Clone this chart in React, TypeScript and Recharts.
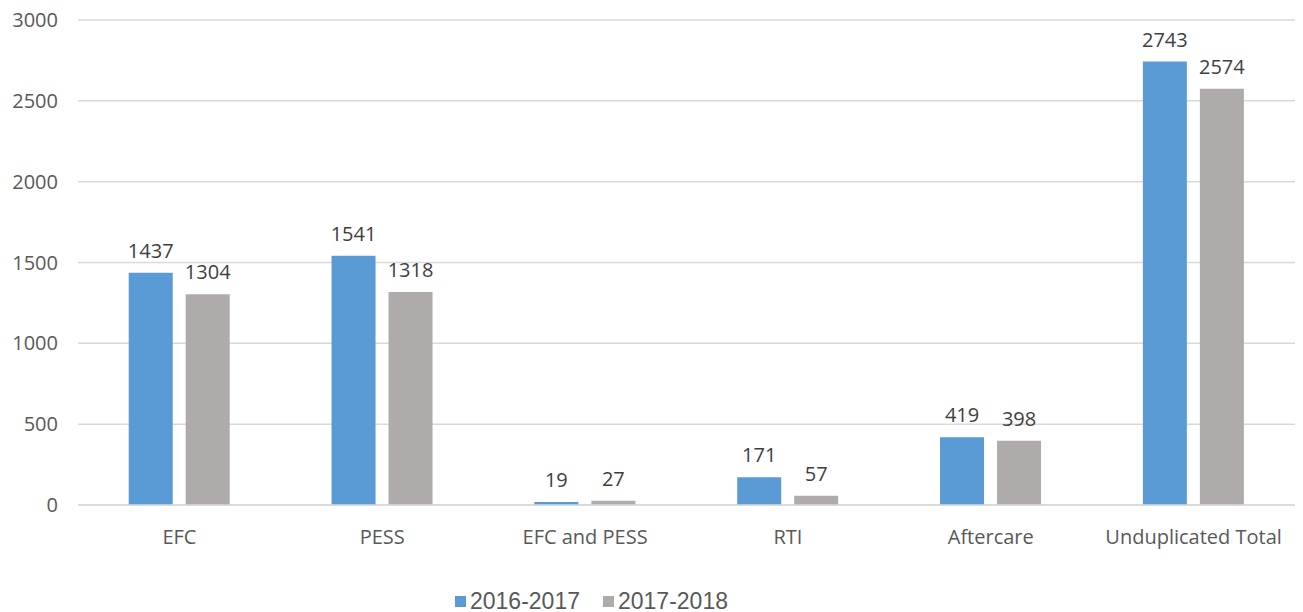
import { BarChart, Bar, XAxis, YAxis, CartesianGrid, Legend, LabelList } from "recharts";

const categories = ["EFC", "PESS", "EFC and PESS", "RTI", "Aftercare", "Unduplicated Total"];
const values2016 = [1437, 1541, 19, 171, 419, 2743];
const values2017 = [1304, 1318, 27, 57, 398, 2574];
const yTicks = [0, 500, 1000, 1500, 2000, 2500, 3000];

const data = categories.map((name, i) => ({
  name,
  y2016: values2016[i],
  y2017: values2017[i],
}));

const axisFont = { fill: "#595959", fontSize: 20, fontFamily: "'Open Sans', sans-serif" };

// legend sits left of the plot centre in the original, so draw it by hand
const renderLegend = (props: any) => {
  const items = props.payload || [];
  return (
    <div style={{ height: 30, position: "relative" }}>
      <div
        style={{
          position: "absolute",
          left: 455,
          top: 6,
          display: "flex",
          alignItems: "center",
          fontFamily: "'Liberation Sans', Arial, sans-serif",
          fontSize: 23,
          color: "#595959",
          lineHeight: "26px",
          whiteSpace: "nowrap",
        }}
      >
        {items.map((it: any, i: number) => (
          <span key={i} style={{ display: "flex", alignItems: "center", marginRight: 23 }}>
            <span style={{ width: 11, height: 11, background: it.color, marginRight: 4, display: "inline-block" }} />
            {it.value}
          </span>
        ))}
      </div>
    </div>
  );
};

export default function App() {
  return (
    <div style={{ position: "absolute", left: 0, top: 0, width: 1303, height: 612, background: "#fff" }}>
      <BarChart
        width={1303}
        height={612}
        data={data}
        margin={{ top: 20, right: 8, left: 0, bottom: 0 }}
        barCategoryGap="25%"
        barGap={13}
      >
        <CartesianGrid vertical={false} stroke="#D9D9D9" strokeWidth={1.5} />
        <XAxis
          dataKey="name"
          tick={axisFont}
          tickLine={false}
          axisLine={{ stroke: "#D9D9D9", strokeWidth: 1.5 }}
          tickSize={0}
          tickMargin={25}
          height={77}
          interval={0}
        />
        <YAxis
          domain={[0, 3000]}
          ticks={yTicks}
          tick={axisFont}
          tickLine={false}
          axisLine={false}
          tickSize={0}
          tickMargin={20}
          width={78}
        />
        <Legend verticalAlign="bottom" content={renderLegend} wrapperStyle={{ left: 0, width: 1303 }} />
        <Bar dataKey="y2016" name="2016-2017" fill="#5B9BD5" isAnimationActive={false}>
          <LabelList dataKey="y2016" position="top" offset={15} style={{ ...axisFont, fill: "#404040" }} />
        </Bar>
        <Bar dataKey="y2017" name="2017-2018" fill="#AFABAB" isAnimationActive={false}>
          <LabelList dataKey="y2017" position="top" offset={15} style={{ ...axisFont, fill: "#404040" }} />
        </Bar>
      </BarChart>
    </div>
  );
}
